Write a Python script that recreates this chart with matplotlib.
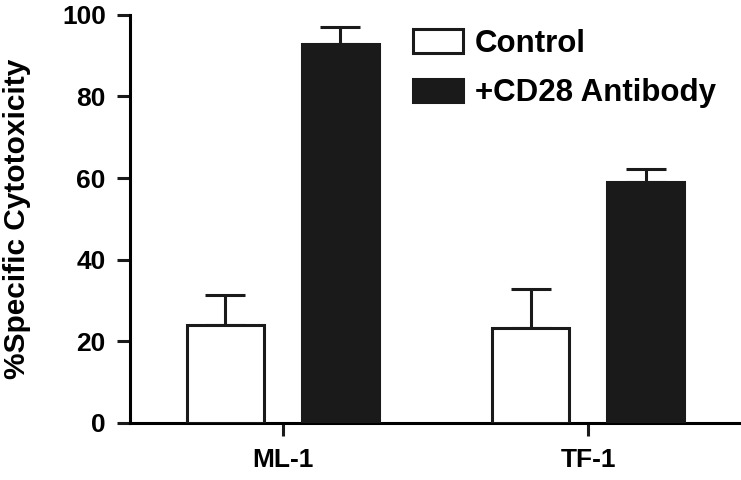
import matplotlib
matplotlib.use("Agg")
import matplotlib.pyplot as plt
import numpy as np

categories = ["ML-1", "TF-1"]
series_names = ["Control", "+CD28 Antibody"]
control_mean = [24.1, 23.3]
control_err = [7.3, 9.6]
cd28_mean = [92.9, 59.0]
cd28_err = [4.1, 3.2]
yticks = [0, 20, 40, 60, 80, 100]

plt.rcParams['font.family'] = ['Liberation Sans', 'DejaVu Sans']
plt.rcParams['font.weight'] = 'bold'

fig = plt.figure(figsize=(7.41, 4.8), dpi=100)
ax = fig.add_axes([0.1754, 0.119, 0.8246, 0.85])

x = np.arange(len(categories))
w = 0.252
off = 0.1885
lw = 2.2
ax.bar(x - off, control_mean, w, color='white', edgecolor='#1a1a1a', linewidth=lw,
       label=series_names[0], zorder=3)
ax.bar(x + off, cd28_mean, w, color='#1a1a1a', edgecolor='#1a1a1a', linewidth=lw,
       label=series_names[1], zorder=3)
ax.errorbar(x - off, control_mean, yerr=[np.zeros(2), control_err], fmt='none',
            ecolor='#1a1a1a', elinewidth=lw, capsize=14.4, capthick=lw, zorder=2)
ax.errorbar(x + off, cd28_mean, yerr=[np.zeros(2), cd28_err], fmt='none',
            ecolor='#1a1a1a', elinewidth=lw, capsize=14.4, capthick=lw, zorder=2)

ax.set_xlim(-0.5, 1.5)
ax.set_ylim(0, 100)
ax.set_xticks(x)
ax.set_xticklabels(categories, fontsize=19, fontweight='bold')
ax.set_yticks(yticks)
ax.set_yticklabels([str(t) for t in yticks], fontsize=19, fontweight='bold')
ax.spines['top'].set_visible(False)
ax.spines['right'].set_visible(False)
ax.spines['left'].set_linewidth(lw)
ax.spines['bottom'].set_linewidth(lw)
ax.tick_params(axis='both', width=lw, length=9.4, color='#1a1a1a')
ax.tick_params(axis='x', pad=9)
ax.tick_params(axis='y', pad=8)
ax.set_ylabel('%Specific Cytotoxicity', fontsize=21.5, fontweight='bold')
ax.yaxis.set_label_coords(-0.162, 0.5)

leg = ax.legend(loc='upper left', bbox_to_anchor=(413/741, 1 - 29/480),
                bbox_transform=fig.transFigure, frameon=False, fontsize=22.5,
                handlelength=1.6, handleheight=0.8, handletextpad=0.38,
                labelspacing=0.62, borderpad=0, borderaxespad=0)
for t in leg.get_texts():
    t.set_fontweight('bold')

fig.savefig('out.png', dpi=100)
